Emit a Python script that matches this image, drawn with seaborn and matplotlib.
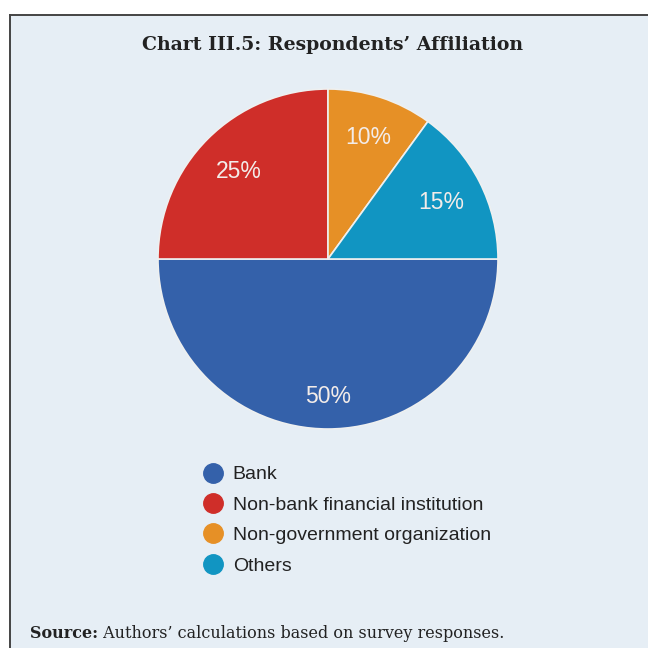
import matplotlib
matplotlib.use("Agg")
import numpy as np
import matplotlib.pyplot as plt
from matplotlib.lines import Line2D
import seaborn as sns

# Survey data: respondents by affiliation (%)
categories = ["Bank", "Non-bank financial institution",
              "Non-government organization", "Others"]
shares = [50, 25, 10, 15]
colors = ["#3461aa", "#cf2e29", "#e69026", "#1195c2"]

title = "Chart III.5: Respondents\u2019 Affiliation"
source_bold = "Source:"
source_text = " Authors\u2019 calculations based on survey responses."

sns.set_theme(style="white")
plt.rcParams["font.family"] = ["Liberation Sans", "DejaVu Sans"]

BG = "#e6eef5"
W = H = 648
fig = plt.figure(figsize=(W / 100, H / 100), dpi=100, facecolor="white")

# Panel background with a frame on the top and left edges
panel = fig.add_axes([10 / W, 0, 1 - 10 / W, 1 - 15 / H])
panel.set_facecolor(BG)
panel.set_xticks([]); panel.set_yticks([])
for side in ("right", "bottom"):
    panel.spines[side].set_visible(False)
for side in ("top", "left"):
    panel.spines[side].set_color("#444444")
    panel.spines[side].set_linewidth(1.4)

# Pie
cx, cy, r = 328, 259, 170
ax = fig.add_axes([(cx - r) / W, (H - cy - r) / H, 2 * r / W, 2 * r / H])
ax.set_facecolor("none")
wedges, texts, autotexts = ax.pie(
    shares, colors=colors, startangle=0, counterclock=False,
    autopct=lambda p: f"{p:.0f}%", pctdistance=0.77,
    wedgeprops=dict(edgecolor="#eef0f0", linewidth=1.2),
    textprops=dict(color="#f3ece9", fontsize=16.5, family="Liberation Sans"))

# Percentage labels: radial distance tuned per slice
label_dist = [0.80, 0.74, 0.765, 0.75]
for w, at, d in zip(wedges, autotexts, label_dist):
    mid = np.deg2rad((w.theta1 + w.theta2) / 2)
    at.set_position((d * np.cos(mid), d * np.sin(mid) - 0.01))

ax.set_xlim(-1, 1); ax.set_ylim(-1, 1)
ax.set_aspect("equal")

# Title and source note
fig.text(332 / W, 1 - 44.5 / H, title, ha="center", va="center",
         family="DejaVu Serif", fontweight="bold", fontsize=13.6, color="#222222")
t = fig.text(30 / W, 1 - 633 / H, source_bold, ha="left", va="center",
             family="DejaVu Serif", fontweight="bold", fontsize=11.5, color="#222222")
fig.canvas.draw()
bb = t.get_window_extent()
fig.text(bb.x1 / W, 1 - 633 / H, source_text, ha="left", va="center",
         family="DejaVu Serif", fontsize=11.5, color="#222222")

# Legend with round markers
handles = [Line2D([], [], marker="o", linestyle="none", markersize=14,
                  markerfacecolor=c, markeredgecolor=c) for c in colors]
fig.legend(handles, categories, loc="upper left",
           bbox_to_anchor=(192 / W, 1 - 456 / H), frameon=False,
           fontsize=14, labelcolor="#222222", handletextpad=0.4,
           labelspacing=0.66, borderpad=0, handlelength=1.2)

fig.savefig("out.png", dpi=100, facecolor="white")
